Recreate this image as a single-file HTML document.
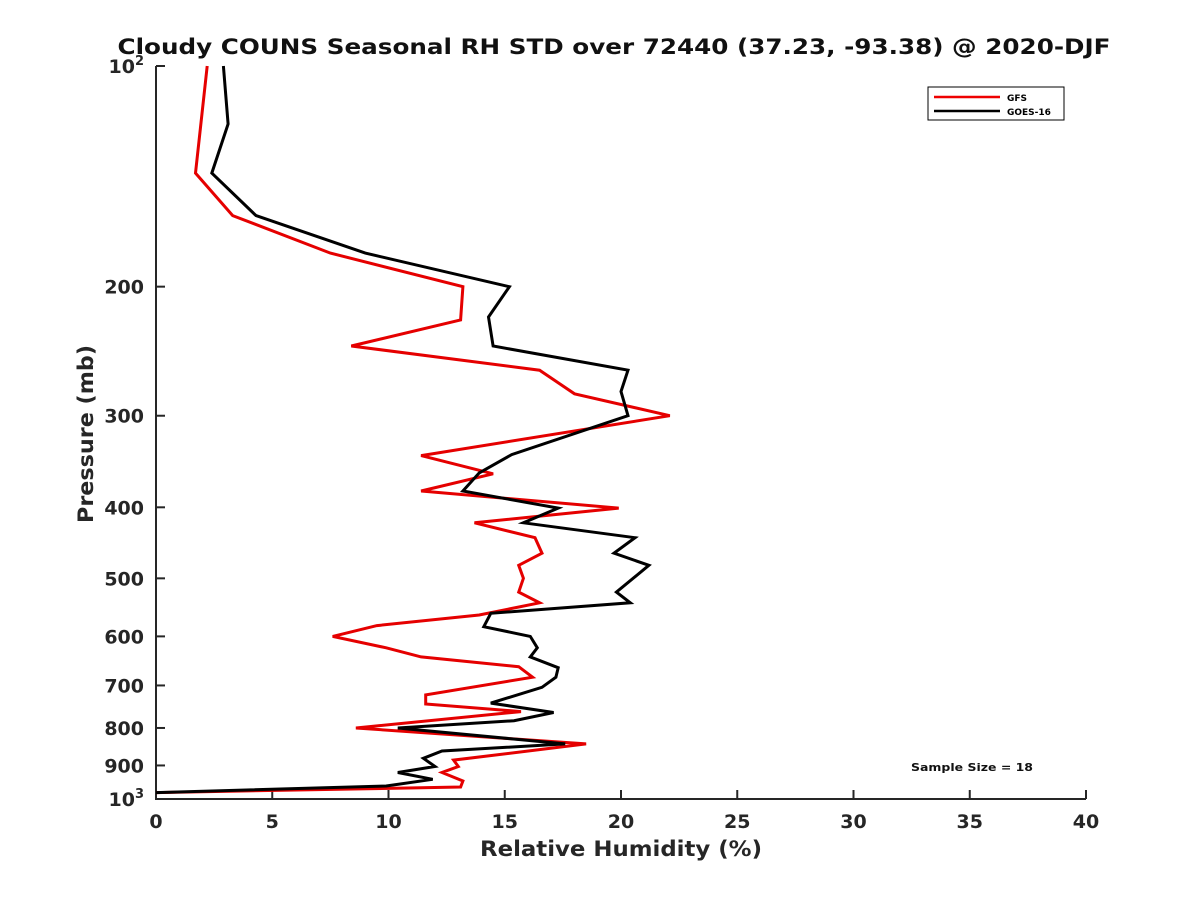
<!DOCTYPE html>
<html><head><meta charset="utf-8"><style>
html,body{margin:0;padding:0;background:#fff;}
svg{display:block;font-family:"DejaVu Sans","Liberation Sans",sans-serif;}
</style></head><body>
<svg id="chart" width="1200" height="900" viewBox="0 0 1200 900">
<rect width="1200" height="900" fill="#fff"/>
<text x="614" y="54" text-anchor="middle" font-size="21" font-weight="bold" fill="#111" textLength="993" lengthAdjust="spacingAndGlyphs">Cloudy COUNS Seasonal RH STD over 72440 (37.23, -93.38) @ 2020-DJF</text>
<g id="axes"></g>
<g id="series"></g>
<g>
<rect x="928" y="87" width="136" height="33" fill="#fff" stroke="#000" stroke-width="1"/>
<line x1="934" y1="97" x2="1000" y2="97" stroke="#e00" stroke-width="2.5"/>
<text x="1007" y="101" font-size="9" font-weight="bold">GFS</text>
<line x1="934" y1="111" x2="1000" y2="111" stroke="#000" stroke-width="2.5"/>
<text x="1007" y="115" font-size="9" font-weight="bold">GOES-16</text>
</g>
<text x="972" y="771" text-anchor="middle" font-size="11" font-weight="bold" fill="#111" textLength="122" lengthAdjust="spacingAndGlyphs">Sample Size = 18</text>
<text x="621" y="856" text-anchor="middle" font-size="21" font-weight="bold" fill="#262626" textLength="282" lengthAdjust="spacingAndGlyphs">Relative Humidity (%)</text>
<text x="0" y="0" transform="translate(93,434) rotate(-90)" text-anchor="middle" font-size="21" font-weight="bold" fill="#262626" textLength="178" lengthAdjust="spacingAndGlyphs">Pressure (mb)</text>
</svg>
<script>
const xTicks=[0,5,10,15,20,25,30,35,40];
const yTicks=[100,200,300,400,500,600,700,800,900,1000];
const yTickLabels=["10²","200","300","400","500","600","700","800","900","10³"];
const gfsP=[100,140,160,180,200,222,241,260,280,300,340,360,380,401,420,440,462,480,500,522,540,561,580,600,622,640,660,682,721,742,760,800,841,885,903,920,945,963,980];
const gfsV=[2.2,1.7,3.3,7.5,13.2,13.1,8.4,16.5,18.0,22.1,11.4,14.5,11.4,19.9,13.7,16.3,16.6,15.6,15.8,15.6,16.5,13.9,9.5,7.6,9.9,11.4,15.6,16.2,11.6,11.6,15.7,8.6,18.5,12.8,13.0,12.3,13.2,13.1,0];
const goesP=[100,120,140,160,180,200,220,241,260,278,300,339,359,380,401,420,440,462,480,522,540,558,582,600,622,640,662,682,704,740,762,782,800,841,860,880,903,920,940,960,980];
const goesV=[2.9,3.1,2.4,4.3,9.0,15.2,14.3,14.5,20.3,20.0,20.3,15.3,13.9,13.2,17.3,15.8,20.6,19.7,21.2,19.8,20.4,14.4,14.1,16.1,16.4,16.1,17.3,17.2,16.6,14.4,17.1,15.4,10.4,17.6,12.3,11.5,12.0,10.4,11.9,9.9,0];

const X0=156,X1=1086,Y0=66,Y1=799;
const xs=v=>X0+(v-0)/(40-0)*(X1-X0);
const ys=p=>Y0+(Math.log10(p)-2)*(Y1-Y0);
const NS="http://www.w3.org/2000/svg";
function mk(t,a,parent){const e=document.createElementNS(NS,t);for(const k in a)e.setAttribute(k,a[k]);parent.appendChild(e);return e;}
const axes=document.getElementById('axes');
const ax=mk('path',{d:`M${X0},${Y0} L${X0},${Y1} L${X1},${Y1}`,fill:'none',stroke:'#262626','stroke-width':2},axes);


xTicks.forEach(v=>{
  const x=xs(v);
  const t=mk('line',{x1:x,y1:Y1,x2:x,y2:Y1-9,stroke:'#262626','stroke-width':2},axes);
  
  
  const l=mk('text',{x:x,y:Y1+29,'text-anchor':'middle','font-size':19,'font-weight':'bold',fill:'#262626'},axes);
  l.textContent=v;
  
  
});
yTicks.forEach((p,i)=>{
  const y=ys(p);
  const t=mk('line',{x1:X0,y1:y,x2:X0+9,y2:y,stroke:'#262626','stroke-width':2},axes);
  
  
  const l=mk('text',{x:X0-12,y:y+7,'text-anchor':'end','font-size':19,'font-weight':'bold',fill:'#262626'},axes);
  const lab=yTickLabels[i];
  if(lab.endsWith('²')||lab.endsWith('³')){
    l.textContent=lab.slice(0,2);
    const s=mk('tspan',{dy:-8,'font-size':13},l);s.textContent=lab.endsWith('²')?'2':'3';
  } else l.textContent=lab;
  
  
});
const ser=document.getElementById('series');
function line(P,V,color,name){
  const pts=P.map((p,i)=>xs(V[i]).toFixed(1)+','+ys(p).toFixed(1)).join(' ');
  const pl=mk('polyline',{points:pts,fill:'none',stroke:color,'stroke-width':3,'stroke-linejoin':'miter'},ser);
  
  
}
line(gfsP,gfsV,'#e50000','gfs-line');
line(goesP,goesV,'#000','goes16-line');
</script>
</body></html>
